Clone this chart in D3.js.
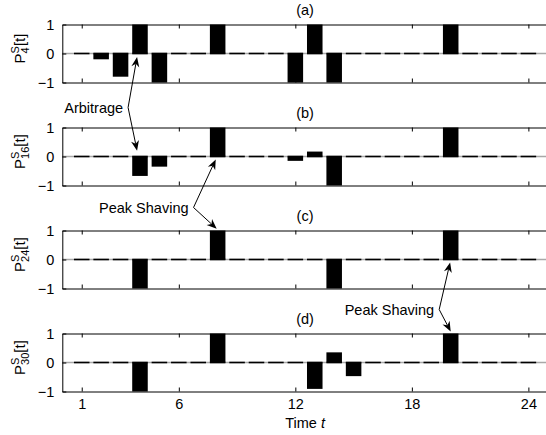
<!DOCTYPE html>
<html>
<head>
<meta charset="utf-8">
<script src="https://cdn.jsdelivr.net/npm/d3@7"></script>
<style>
  body { margin: 0; background: #fff; }
  svg { display: block; font-family: "Liberation Sans", Arial, sans-serif; }
</style>
</head>
<body>
<script>
// hourly slots
var times = [1, 2, 3, 4, 5, 6, 7, 8, 9, 10, 11, 12, 13, 14, 15, 16, 17, 18, 19, 20, 21, 22, 23, 24];
var xTicks = [1, 6, 12, 18, 24];
var yTicks = [-1, 0, 1];

// storage power per panel
var p4  = [0, -0.2, -0.8, 1, -1, 0, 0, 1, 0, 0, 0, -1, 1, -1, 0, 0, 0, 0, 0, 1, 0, 0, 0, 0];
var p16 = [0, 0, 0, -0.67, -0.35, 0, 0, 1, 0, 0, 0, -0.15, 0.17, -1, 0, 0, 0, 0, 0, 1, 0, 0, 0, 0];
var p24 = [0, 0, 0, -1, 0, 0, 0, 1, 0, 0, 0, 0, 0, -1, 0, 0, 0, 0, 0, 1, 0, 0, 0, 0];
var p30 = [0, 0, 0, -1, 0, 0, 0, 1, 0, 0, 0, 0, -0.91, 0.35, -0.47, 0, 0, 0, 0, 1, 0, 0, 0, 0];

var titles = ["(a)", "(b)", "(c)", "(d)"];
var subs = ["4", "16", "24", "30"];
var series = [p4, p16, p24, p30];

// annotations: text + two arrow targets given as (panel, t, value)
var notes = [
    {label: "Arbitrage", t: 3.13, panel: 0, dy: 25,
     targets: [{panel: 0, t: 3.85, v: -0.12}, {panel: 1, t: 3.85, v: 0.2}]},
    {label: "Peak Shaving", t: 6.5, panel: 1, dy: 22,
     targets: [{panel: 1, t: 7.9, v: -0.1}, {panel: 2, t: 7.95, v: 1.06}]},
    {label: "Peak Shaving", t: 19.15, panel: 2, dy: 21,
     targets: [{panel: 2, t: 19.97, v: -0.1}, {panel: 3, t: 20.0, v: 1.07}]}
];

var W = 546, H = 435;
var fontSize = 14.5;
var panelTop = [24.5, 127.5, 230.5, 333.5];
var panelH = 58;

var svg = d3.select("body").append("svg").attr("width", W).attr("height", H);

var x = d3.scaleLinear().domain([0, 25]).range([62.3, 547.8]);
var barW = x(0.8) - x(0);

var yScales = panelTop.map(function (top) {
    return d3.scaleLinear().domain([-1, 1]).range([top + panelH, top]);
});

series.forEach(function (vals, i) {
    var y = yScales[i];
    var g = svg.append("g").attr("class", "panel");
    var data = times.map(function (t, k) { return {t: t, v: vals[k]}; });

    // grey baseline with the zero bars' black edges over it
    g.append("line")
        .attr("x1", x(0)).attr("x2", W)
        .attr("y1", y(0)).attr("y2", y(0))
        .attr("stroke", "#a8a8a8").attr("stroke-width", 1.6);
    g.selectAll(".zero").data(data).enter().append("line")
        .attr("class", "zero")
        .attr("x1", function (d) { return x(d.t) - barW / 2; })
        .attr("x2", function (d) { return x(d.t) + barW / 2; })
        .attr("y1", y(0)).attr("y2", y(0))
        .attr("stroke", "#000").attr("stroke-width", 1.6);

    g.selectAll(".bar").data(data.filter(function (d) { return d.v !== 0; })).enter().append("rect")
        .attr("class", "bar")
        .attr("x", function (d) { return x(d.t) - barW / 2; })
        .attr("width", barW)
        .attr("y", function (d) { return y(Math.max(0, d.v)); })
        .attr("height", function (d) { return Math.abs(y(d.v) - y(0)); })
        .attr("fill", "#000");

    // box and ticks
    var bottomAxis = d3.axisBottom(x).tickValues(xTicks).tickSizeInner(-4).tickSizeOuter(0).tickPadding(7);
    if (i < series.length - 1) bottomAxis.tickFormat("");
    g.append("g").attr("transform", "translate(0," + y(-1) + ")").call(bottomAxis);
    g.append("g").attr("transform", "translate(0," + y(1) + ")")
        .call(d3.axisTop(x).tickValues(xTicks).tickSizeInner(-4).tickSizeOuter(0).tickFormat(""));
    g.append("g").attr("transform", "translate(" + x(0) + ",0)")
        .call(d3.axisLeft(y).tickValues(yTicks).tickSizeInner(-4).tickSizeOuter(0).tickPadding(8)
            .tickFormat(function (d) { return d < 0 ? "\u2212" + (-d) : d; }));
    g.selectAll(".domain, .tick line").attr("stroke", "#000").attr("stroke-width", 1);
    g.selectAll(".tick text").attr("font-size", fontSize).attr("font-family", "Liberation Sans, Arial, sans-serif").attr("fill", "#000");

    // title
    g.append("text")
        .attr("x", (x(0) + x(25)) / 2).attr("y", y(1) - 10)
        .attr("text-anchor", "middle").attr("font-size", fontSize)
        .text(titles[i]);

    // y label  P^S_n[t]
    var cy = (y(1) + y(-1)) / 2 - 5;
    var lab = g.append("text")
        .attr("transform", "translate(25," + cy + ") rotate(-90)")
        .attr("text-anchor", "middle").attr("font-size", 15);
    lab.append("tspan").text("P");
    var sup = lab.append("tspan").attr("font-size", 11).attr("dy", -6).text("S");
    var sub = lab.append("tspan").attr("font-size", 11).text(subs[i]);
    var wS = sup.node().getComputedTextLength();
    var wSub = sub.node().getComputedTextLength();
    sub.attr("dx", -wS).attr("dy", 10);
    lab.append("tspan").attr("dy", -4).attr("dx", Math.max(0, wS - wSub)).text("[t]");
});

// x label
var xl = svg.append("text")
    .attr("x", (x(0) + x(25)) / 2).attr("y", 428)
    .attr("text-anchor", "middle").attr("font-size", fontSize);
xl.append("tspan").text("Time ");
xl.append("tspan").attr("font-style", "italic").text("t");

// annotations
function arrowHead(g, x0, y0, x1, y1) {
    var a = Math.atan2(y1 - y0, x1 - x0);
    var len = 10, half = 4, notch = 7;
    var pts = [
        [x1, y1],
        [x1 - len * Math.cos(a) + half * Math.sin(a), y1 - len * Math.sin(a) - half * Math.cos(a)],
        [x1 - notch * Math.cos(a), y1 - notch * Math.sin(a)],
        [x1 - len * Math.cos(a) - half * Math.sin(a), y1 - len * Math.sin(a) + half * Math.cos(a)]
    ];
    g.append("path").attr("d", "M" + pts.join("L") + "Z").attr("fill", "#000");
}

notes.forEach(function (n) {
    var g = svg.append("g").attr("class", "note");
    var ty = yScales[n.panel](-1) + n.dy;
    var tx = x(n.t);
    g.append("text")
        .attr("x", tx).attr("y", ty + 5)
        .attr("text-anchor", "end").attr("font-size", fontSize)
        .text(n.label);
    var kx = tx + 5, ky = ty;
    n.targets.forEach(function (tg) {
        var ex = x(tg.t), ey = yScales[tg.panel](tg.v);
        var a = Math.atan2(ey - ky, ex - kx);
        g.append("line")
            .attr("x1", kx).attr("y1", ky)
            .attr("x2", ex - 7 * Math.cos(a)).attr("y2", ey - 7 * Math.sin(a))
            .attr("stroke", "#000").attr("stroke-width", 1);
        arrowHead(g, kx, ky, ex, ey);
    });
});
</script>
</body>
</html>
